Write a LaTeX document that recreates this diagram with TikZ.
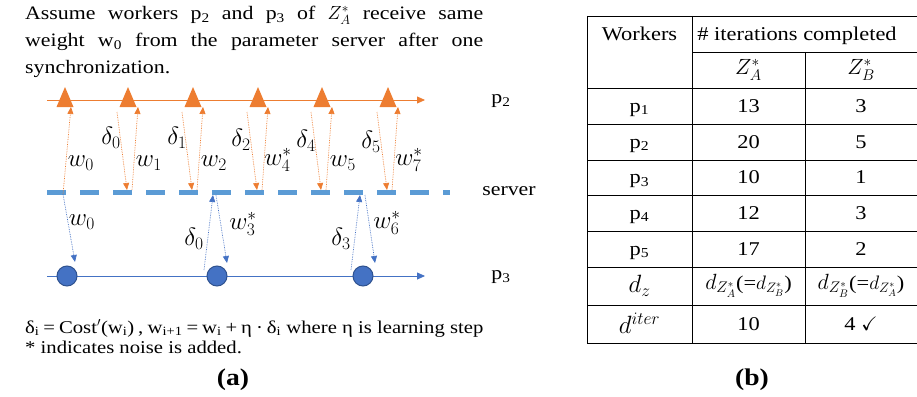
\documentclass[tikz,border=0pt]{standalone}
\usepackage{fix-cm}
\usepackage{amssymb}
\usepackage{fontspec}
\setmainfont{Liberation Serif}[FakeStretch=1.15]
\usetikzlibrary{arrows.meta}
\definecolor{orA}{HTML}{ED7D31}
\definecolor{blS}{HTML}{5B9BD5}
\definecolor{blP}{HTML}{4472C4}
\definecolor{blD}{HTML}{2F528F}
\begin{document}
\begin{tikzpicture}[x=1pt,y=-1pt,
  oarr/.style={orA, line width=0.7pt, densely dotted, -{Triangle[length=7pt,width=6pt]}},
  barr/.style={blP, line width=0.7pt, densely dotted, -{Triangle[length=7pt,width=6pt]}},
  lbl/.style={font=\fontsize{25}{28}\selectfont, inner sep=0},
  txt/.style={font=\fontsize{19}{27}\selectfont, inner sep=0},
  cell/.style={font=\fontsize{19.5}{22}\selectfont, inner sep=0},
  mcell/.style={font=\fontsize{22}{24}\selectfont, inner sep=0},
  bigm/.style={font=\fontsize{25}{28}\selectfont, inner sep=0},
  tline/.style={line width=0.9pt, black},
  dot/.style={circle, fill=blP, draw=blD, line width=1pt, minimum size=20pt, inner sep=0},
  side/.style={font=\fontsize{19}{22}\selectfont, inner sep=0},
]
\useasboundingbox (0,0) rectangle (917,396);
% top text
\node[txt, text width=458pt, align=justify, anchor=north west] (intro) at (25,6)
 {Assume workers p\textsubscript{2} and p\textsubscript{3} of $Z_A^*$ receive same\linebreak
  weight w\textsubscript{0} from the parameter server after one\linebreak
  synchronization.};
% timelines
\coordinate (p2s) at (47,100); \coordinate (p2e) at (425,100);
\draw[orA, line width=0.8pt, -{Triangle[length=8pt,width=7pt]}] (p2s) -- (p2e);
\coordinate (ss) at (47,192); \coordinate (se) at (450,192);
\draw[blS, line width=5pt, dash pattern=on 19pt off 14pt] (ss) -- (se);
\coordinate (p3s) at (47,276); \coordinate (p3e) at (425,276);
\draw[blP, line width=0.8pt, -{Triangle[length=8pt,width=7pt]}] (p3s) -- (p3e);
\node[side] (lp2) at (501,101) {p\textsubscript{2}};
\node[side, anchor=base] (lsv) at (509,195) {server};
\node[side] (lp3) at (501,277) {p\textsubscript{3}};
% triangles
\foreach \i/\x in {1/65,2/128,3/193,4/258,5/322,6/388} {
  \fill[orA] (\x-8.5,107) -- (\x+8.5,107) -- (\x,87) -- cycle;
  \coordinate (t\i) at (\x,100);
}
% orange arrows
\coordinate (a0) at (63,194); \coordinate (b0) at (71,107);
\draw[oarr] (a0) -- (b0);
\foreach \i/\x in {2/128,3/193,4/258,5/322,6/388} {
  \coordinate (dA\i) at (\x-11,112); \coordinate (dB\i) at (\x-1,190);
  \coordinate (wA\i) at (\x+4,190); \coordinate (wB\i) at (\x+10,107);
  \draw[oarr] (dA\i) -- (dB\i);
  \draw[oarr] (wA\i) -- (wB\i);
}
\node[lbl] (lw0) at (81,163) {$w_0$};
\node[lbl] (ld0) at (111,138) {$\delta_0$};
\node[lbl] (lw1) at (149,163) {$w_1$};
\node[lbl] (ld1) at (177,138) {$\delta_1$};
\node[lbl] (lw2) at (214,163) {$w_2$};
\node[lbl] (ld2) at (241,140) {$\delta_2$};
\node[lbl] (lw4) at (278,160) {$w_4^*$};
\node[lbl] (ld4) at (306,141) {$\delta_4$};
\node[lbl] (lw5) at (343,163) {$w_5$};
\node[lbl] (ld5) at (371,142) {$\delta_5$};
\node[lbl] (lw7) at (409,160) {$w_7^*$};
% circles
\node[dot] (c1) at (67,276) {};
\node[dot] (c2) at (217,276) {};
\node[dot] (c3) at (363,276) {};
% blue arrows
\coordinate (e1) at (63,194); \coordinate (f1) at (75,262);
\draw[barr] (e1) -- (f1);
\coordinate (g1) at (204,270); \coordinate (h1) at (213,195);
\draw[barr] (g1) -- (h1);
\coordinate (e2) at (216,195); \coordinate (f2) at (227,263);
\draw[barr] (e2) -- (f2);
\coordinate (g2) at (351,270); \coordinate (h2) at (360,195);
\draw[barr] (g2) -- (h2);
\coordinate (e3) at (365,195); \coordinate (f3) at (375,263);
\draw[barr] (e3) -- (f3);
\node[lbl] (bw0) at (82,222) {$w_0$};
\node[lbl] (bd0) at (194,239) {$\delta_0$};
\node[lbl] (bw3) at (243,224) {$w_3^*$};
\node[lbl] (bd3) at (341,239) {$\delta_3$};
\node[lbl] (bw6) at (387,223) {$w_6^*$};
% bottom text
\node[font=\fontsize{18}{20}\selectfont, inner sep=0, anchor=base west] (form) at (25,333)
 {\makebox[256pt][s]{δ\textsubscript{i} = Cost$'$(w\textsubscript{i}) , w\textsubscript{i+1} = w\textsubscript{i} + η · δ\textsubscript{i}} where η is learning step};
\node[font=\fontsize{18}{20}\selectfont, inner sep=0, anchor=base west] (note) at (25,353)
 {* indicates noise is added.};
\node[font=\fontsize{24}{26}\selectfont\bfseries, inner sep=0] (capa) at (233,380) {(a)};
\node[font=\fontsize{24}{26}\selectfont\bfseries, inner sep=0] (capb) at (752,380) {(b)};
% table
\foreach \y in {16,88,124,160,195,231,267,305,343} \draw[tline] (587,\y) -- (917,\y);
\draw[tline] (692,52) -- (917,52);
\draw[tline] (587,16) -- (587,343);
\draw[tline] (692,16) -- (692,343);
\draw[tline] (805,52) -- (805,343);
\node[cell, anchor=base] (hw) at (639.5,41) {Workers};
\node[cell, anchor=base] (hi) at (797,41) {\# iterations completed};
\node[mcell] (za) at (748.5,70) {$Z_A^*$};
\node[mcell] (zb) at (861,70) {$Z_B^*$};
\foreach \n/\y/\a/\b in {1/112/13/3,2/148/20/5,3/183.5/10/1,4/219/12/3,5/255/17/2} {
  \node[cell, anchor=base] (r\n) at (639.5,\y) {p\textsubscript{\n}};
  \node[cell, anchor=base] (ra\n) at (748.5,\y) {\a};
  \node[cell, anchor=base] (rb\n) at (861,\y) {\b};
}
\node[bigm] (dz) at (639.5,286) {$d_z$};
\node[mcell] (dza) at (748.5,286) {$d_{Z_A^*}$\fontsize{19.5}{22}\selectfont(=$d_{Z_B^*}$)};
\node[mcell] (dzb) at (861,286) {$d_{Z_B^*}$\fontsize{19.5}{22}\selectfont(=$d_{Z_A^*}$)};
\node[bigm] (di) at (639.5,323) {$d^{iter}$};
\node[cell, anchor=base] (dia) at (748.5,330) {10};
\node[cell, anchor=base] (dib) at (861,330) {4 $\checkmark$};
\end{tikzpicture}
\end{document}
